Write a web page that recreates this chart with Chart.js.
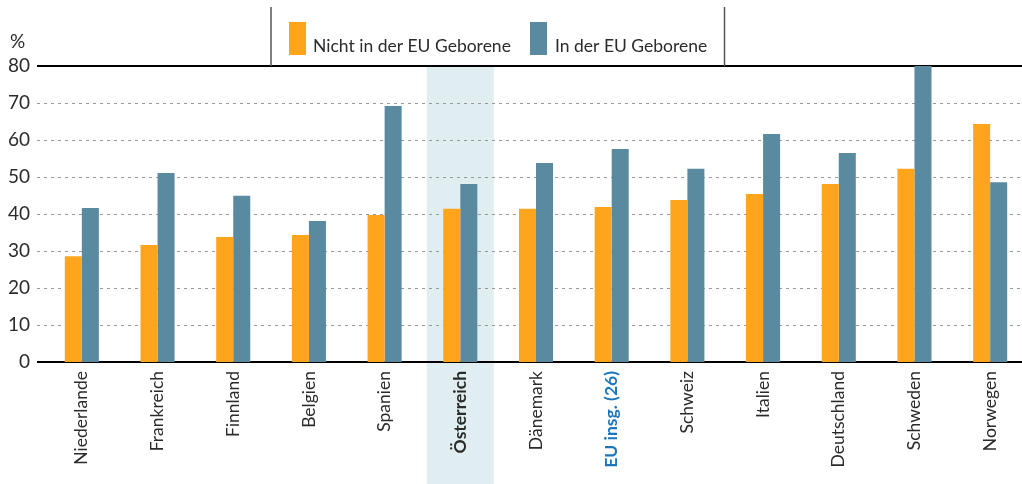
<!DOCTYPE html>
<html lang="de">
<head>
    <meta charset="UTF-8">
    <title>Beschäftigungsquote</title>
    <script src="https://cdn.jsdelivr.net/npm/chart.js"></script>
    <style>
        html, body {
            margin: 0;
            padding: 0;
            background: white;
            overflow: hidden;
        }
        .chart-box {
            width: 1028px;
            height: 484px;
        }
    </style>
</head>
<body>
    <div class="chart-box">
        <canvas id="euChart"></canvas>
    </div>
    <script>
        const countries = ['Niederlande', 'Frankreich', 'Finnland', 'Belgien', 'Spanien', 'Österreich',
            'Dänemark', 'EU insg. (26)', 'Schweiz', 'Italien', 'Deutschland', 'Schweden', 'Norwegen'];
        const notEuBorn = [28.6, 31.6, 33.8, 34.3, 39.7, 41.4, 41.4, 41.9, 43.8, 45.4, 48.1, 52.2, 64.3];
        const euBorn = [41.6, 51.1, 44.9, 38.1, 69.2, 48.1, 53.8, 57.6, 52.2, 61.6, 56.5, 80.0, 48.6];
        const yTicks = [0, 10, 20, 30, 40, 50, 60, 70, 80];

        const FONT = 'Lato, "Open Sans", sans-serif';
        const ORANGE = '#FFA41D';
        const BLUE = '#5A8A9F';
        const TEXT = '#2b2b2b';

        // light blue band behind Österreich
        const highlight = {
            id: 'highlight',
            beforeDraw(chart) {
                const x = chart.scales.x, ctx = chart.ctx;
                const cx = x.getPixelForValue(5);
                ctx.save();
                ctx.fillStyle = '#E0EEF2';
                ctx.fillRect(cx - 33.5, chart.chartArea.top, 67, chart.height - chart.chartArea.top);
                ctx.restore();
            }
        };

        // dashed grid, axis lines, legend box and unit label
        const decor = {
            id: 'decor',
            beforeDatasetsDraw(chart) {
                const y = chart.scales.y, ctx = chart.ctx;
                const right = chart.width;
                ctx.save();
                ctx.strokeStyle = '#999';
                ctx.lineWidth = 1;
                ctx.setLineDash([3, 4]);
                yTicks.slice(1, -1).forEach(v => {
                    const py = Math.round(y.getPixelForValue(v)) + 0.5;
                    ctx.beginPath();
                    ctx.moveTo(37, py);
                    ctx.lineTo(right, py);
                    ctx.stroke();
                });
                ctx.setLineDash([]);
                ctx.strokeStyle = '#000';
                ctx.lineWidth = 2;
                const top = y.getPixelForValue(80);
                const bottom = y.getPixelForValue(0);
                ctx.beginPath();
                ctx.moveTo(37, top); ctx.lineTo(right, top);
                ctx.moveTo(37, bottom); ctx.lineTo(right, bottom);
                ctx.stroke();

                // legend frame
                ctx.strokeStyle = '#555';
                ctx.lineWidth = 1.5;
                ctx.beginPath();
                ctx.moveTo(271, 7); ctx.lineTo(271, top);
                ctx.moveTo(724.5, 7); ctx.lineTo(724.5, top);
                ctx.stroke();

                ctx.font = '19px ' + FONT;
                ctx.fillStyle = TEXT;
                ctx.textBaseline = 'alphabetic';
                ctx.fillText('%', 10, 48);

                ctx.font = '17.5px ' + FONT;
                const items = [{x: 289, tx: 313}, {x: 530, tx: 555}];
                chart.data.datasets.forEach((ds, i) => {
                    ctx.fillStyle = ds.backgroundColor;
                    ctx.fillRect(items[i].x, 22, 17, 33);
                    ctx.fillStyle = TEXT;
                    ctx.fillText(ds.label, items[i].tx, 52);
                });
                ctx.restore();
            }
        };

        new Chart(document.getElementById('euChart'), {
            type: 'bar',
            data: {
                labels: countries,
                datasets: [{
                    label: 'Nicht in der EU Geborene',
                    data: notEuBorn,
                    backgroundColor: ORANGE
                }, {
                    label: 'In der EU Geborene',
                    data: euBorn,
                    backgroundColor: BLUE
                }]
            },
            options: {
                responsive: true,
                maintainAspectRatio: false,
                animation: false,
                layout: { padding: { top: 66, left: 0, right: 0, bottom: 0 } },
                datasets: {
                    bar: { categoryPercentage: 0.45, barPercentage: 1.0 }
                },
                plugins: {
                    legend: { display: false },
                    tooltip: { enabled: false }
                },
                scales: {
                    x: {
                        grid: { display: false, drawTicks: false },
                        border: { display: false },
                        afterFit(scale) { scale.height = 122; },
                        ticks: {
                            minRotation: 90,
                            maxRotation: 90,
                            padding: 9,
                            autoSkip: false,
                            color(ctx) {
                                return ctx.index === 7 ? '#1B76BC' : TEXT;
                            },
                            font(ctx) {
                                const bold = ctx.index === 5 || ctx.index === 7;
                                return { family: FONT, size: 17.5, weight: bold ? 'bold' : 'normal' };
                            }
                        }
                    },
                    y: {
                        min: 0,
                        max: 80,
                        grid: { display: false, drawTicks: false },
                        border: { display: false },
                        afterFit(scale) { scale.width = 44; },
                        afterBuildTicks(scale) {
                            scale.ticks = yTicks.map(v => ({ value: v }));
                        },
                        ticks: {
                            padding: 14,
                            color: TEXT,
                            font: { family: FONT, size: 19 }
                        }
                    }
                }
            },
            plugins: [highlight, decor]
        });
    </script>
</body>
</html>
